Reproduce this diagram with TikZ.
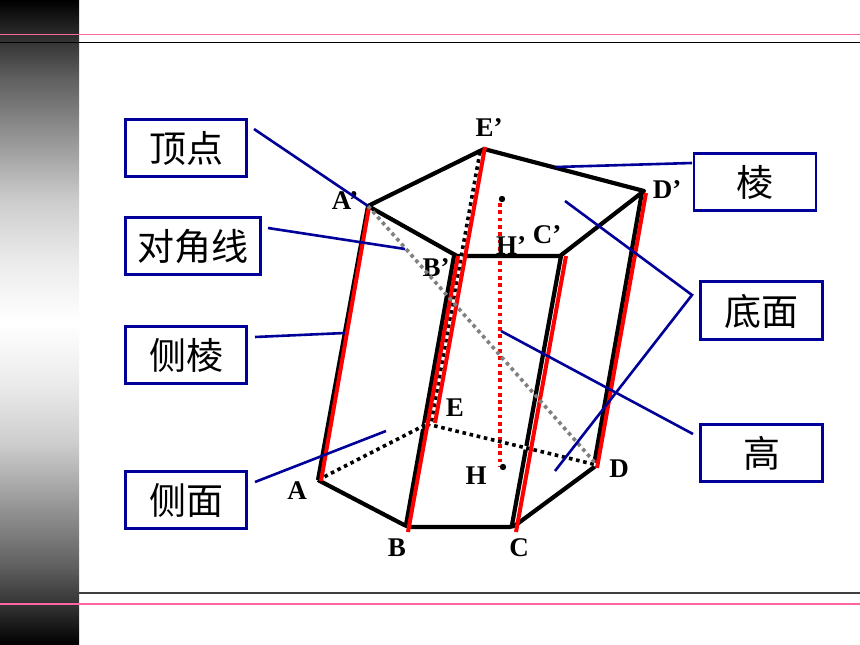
\documentclass[tikz,border=0pt]{standalone}
\usepackage{fontspec}
\setmainfont{Liberation Serif}
\newfontfamily\cjk{Noto Sans CJK SC}
\definecolor{boxblue}{RGB}{0,0,153}
\definecolor{pinkline}{RGB}{255,102,160}
\definecolor{dotgray}{RGB}{128,128,128}
\pgfdeclareverticalshading{stripshade}{100bp}{
  color(0bp)=(black); color(25bp)=(black);
  color(28.1bp)=(black!80!white); color(31.2bp)=(black!62!white);
  color(37.4bp)=(black!34!white); color(40.5bp)=(black!20!white);
  color(45.2bp)=(black!8!white); color(50bp)=(white);
  color(54.8bp)=(black!8!white); color(59.5bp)=(black!20!white);
  color(62.6bp)=(black!34!white); color(68.8bp)=(black!62!white);
  color(71.9bp)=(black!80!white); color(75bp)=(black); color(100bp)=(black)}
\tikzset{
  lbl/.style={draw=boxblue,line width=2.6pt,fill=white,inner sep=0pt,text depth=0pt,font=\cjk\fontsize{37}{37}\selectfont,text=black},
  vtx/.style={font=\bfseries\fontsize{27}{27}\selectfont,inner sep=0pt,text=black},
  edgek/.style={black,line width=4.2pt},
  redl/.style={red,line width=4pt},
  bluel/.style={boxblue,line width=2.6pt},
  dotk/.style={black,line width=3.6pt,dash pattern=on 3.6pt off 3.7pt},
  dotw/.style={white,line width=3.6pt,dash pattern=on 3.7pt off 3.6pt,dash phase=-3.6pt},
  dotr/.style={red,line width=3.6pt,dash pattern=on 3.7pt off 3.6pt},
  dotg/.style={dotgray,line width=3.6pt,dash pattern=on 3.6pt off 3.6pt},
}
\begin{document}
\begin{tikzpicture}[x=1pt,y=-1pt]
\useasboundingbox (0,0) rectangle (860,645);
\fill[white] (0,0) rectangle (860,645);
\shade[shading=stripshade] (0,0) rectangle (79,645);
% header and footer rules
\draw[pinkline,line width=1.6pt] (0,34.5) -- (860,34.5);
\draw[black,line width=1.4pt] (0,42.5) -- (860,42.5);
\draw[black!75,line width=1.5pt] (0,593) -- (860,593);
\draw[pinkline,line width=1.6pt] (0,604) -- (860,604);
% vertices
\coordinate (Atop) at (368,206);
\coordinate (Etop) at (484,149);
\coordinate (Dtop) at (644,191);
\coordinate (Ctop) at (560,256);
\coordinate (Btop) at (457,256);
\coordinate (Abot) at (318,480);
\coordinate (Bbot) at (408,527);
\coordinate (Cbot) at (513,527);
\coordinate (Dbot) at (597,465);
\coordinate (Ebot) at (427,424);
\coordinate (Htop) at (502,199);
\coordinate (Hbot) at (503,467);
% height
\draw[dotr] (500,203) -- (500,467);
\fill (Htop) circle (3.2);
\fill (Hbot) circle (3.2);
% visible edges
\draw[edgek,line join=round] (Atop) -- (Etop) -- (Dtop) -- (Ctop) -- (Btop) -- cycle;
\draw[edgek,rounded corners=4pt] (Abot) -- (Bbot) -- (Cbot) -- (Dbot);
\draw[edgek] (Atop) -- (Abot);
\draw[edgek] (454,256) -- (406,525);
\draw[edgek] (561,256) -- (512,525);
\draw[edgek] (642,192) -- (594,465);
% hidden edges
\draw[dotw] (Abot) -- (Ebot);
\draw[dotw] (Ebot) -- (Dbot);
\draw[dotk] (Abot) -- (Ebot);
\draw[dotk] (Ebot) -- (Dbot);
\draw[dotw] (480,152) -- (431,424);
\draw[dotk] (480,152) -- (431,424);
% red lateral edges
\draw[redl] (369,207) -- (321,481);
\draw[redl] (485,147) -- (435,423);
\draw[redl] (458,256) -- (408,532);
\draw[redl] (566,256) -- (516,532);
\draw[redl] (646,193) -- (597,468);
% vertex labels
\node[vtx] (lEp) at (489,128) {E’};
\node[vtx] (lAp) at (345,201) {A’};
\node[vtx] (lDp) at (667,190) {D’};
\node[vtx] (lCp) at (547,235) {C’};
\node[vtx] (lHp) at (511,246) {H’};
\node[vtx] (lBp) at (436,268) {B’};
\node[vtx] (lE) at (455,408) {E};
\node[vtx] (lA) at (297,491) {A};
\node[vtx] (lH) at (476,476) {H};
\node[vtx] (lD) at (619,469) {D};
\node[vtx] (lB) at (397,548) {B};
\node[vtx] (lC) at (519,548) {C};
% gray diagonal
\draw[dotg] (Atop) -- (Dbot);
% callout boxes
\node[lbl,minimum width=121pt,minimum height=57pt] (bDing) at (186,148) {\raisebox{2pt}{顶点}};
\node[lbl,minimum width=135pt,minimum height=57pt] (bDui) at (193,246) {\raisebox{2pt}{对角线}};
\node[lbl,minimum width=121pt,minimum height=57pt] (bCeL) at (186,355) {\raisebox{2pt}{侧棱}};
\node[lbl,minimum width=121pt,minimum height=57pt] (bCeM) at (186,500) {\raisebox{2pt}{侧面}};
\node[lbl,minimum width=122pt,minimum height=57pt] (bLeng) at (755,182) {\raisebox{2pt}{棱}};
\node[lbl,minimum width=122pt,minimum height=58pt] (bDi) at (761.5,310.5) {\raisebox{2pt}{底面}};
\node[lbl,minimum width=122pt,minimum height=57pt] (bGao) at (761.5,453) {\raisebox{2pt}{高}};
% callout leaders
\coordinate (fork) at (692,295);
\draw[bluel] (254,129) -- (Atop);
\draw[bluel] (268,228) -- (405,249);
\draw[bluel] (255,337) -- (345,333);
\draw[bluel] (255,482) -- (386,431);
\draw[bluel] (556,167) -- (692,163);
\draw[bluel] (565,201) -- (fork) -- (555,471);
\draw[bluel] (501,331) -- (693,434);
\end{tikzpicture}
\end{document}
